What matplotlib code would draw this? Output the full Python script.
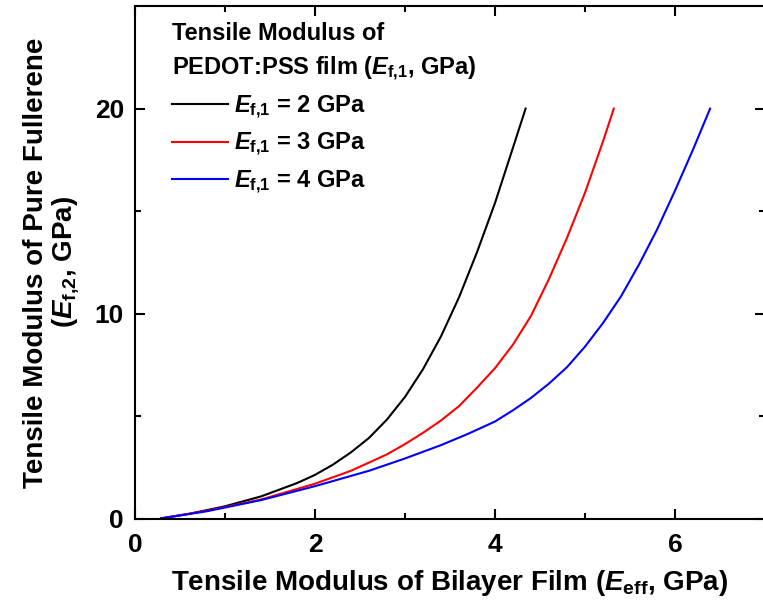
import matplotlib
matplotlib.use('Agg')
import matplotlib.pyplot as plt

plt.rcParams['font.family'] = ['Liberation Sans', 'DejaVu Sans']
plt.rcParams['font.weight'] = 'bold'
plt.rcParams['mathtext.fontset'] = 'custom'
plt.rcParams['mathtext.rm'] = 'Liberation Sans:bold'
plt.rcParams['mathtext.it'] = 'Liberation Sans:bold:italic'
plt.rcParams['mathtext.bf'] = 'Liberation Sans:bold'

# curves: E_eff (x) vs E_f,2 (y)
x_e2 = [0.29, 0.6, 1.0, 1.4, 1.8, 2.0, 2.2, 2.4, 2.6, 2.8, 3.0, 3.2, 3.4, 3.6, 3.8, 4.0, 4.2, 4.34]
y_e2 = [0.03, 0.25, 0.62, 1.1, 1.75, 2.15, 2.65, 3.25, 3.95, 4.85, 5.95, 7.3, 8.9, 10.8, 13.0, 15.4, 18.1, 20.0]

x_e3 = [0.29, 0.8, 1.4, 2.0, 2.4, 2.8, 3.0, 3.2, 3.4, 3.6, 3.8, 4.0, 4.2, 4.4, 4.6, 4.8, 5.0, 5.2, 5.32]
y_e3 = [0.03, 0.4, 0.95, 1.72, 2.35, 3.15, 3.65, 4.2, 4.8, 5.5, 6.4, 7.35, 8.5, 9.9, 11.7, 13.7, 15.9, 18.4, 20.0]

x_e4 = [0.29, 0.8, 1.4, 2.0, 2.2, 2.6, 3.0, 3.4, 3.7, 4.0, 4.2, 4.4, 4.6, 4.8, 5.0, 5.2, 5.4, 5.6, 5.8, 6.0, 6.2, 6.39]
y_e4 = [0.03, 0.38, 0.92, 1.6, 1.85, 2.35, 2.95, 3.6, 4.15, 4.75, 5.3, 5.9, 6.6, 7.4, 8.4, 9.55, 10.85, 12.4, 14.1, 16.0, 18.0, 20.0]

labels = [r'$\mathit{E}_{\mathrm{f{,}1}}$ = 2 GPa',
          r'$\mathit{E}_{\mathrm{f{,}1}}$ = 3 GPa',
          r'$\mathit{E}_{\mathrm{f{,}1}}$ = 4 GPa']
colors = ['black', 'red', 'blue']

fig = plt.figure(figsize=(7.63, 6.13), dpi=100)
ax = fig.add_axes([135/763, 94/613, 630/763, 513/613])

for xs, ys, c, lab in zip([x_e2, x_e3, x_e4], [y_e2, y_e3, y_e4], colors, labels):
    ax.plot(xs, ys, color=c, lw=1.5, label=lab)

ax.set_xlim(0, 7)
ax.set_ylim(0, 25)
ax.set_xticks([0, 2, 4, 6])
ax.set_xticks([1, 3, 5], minor=True)
ax.set_yticks([0, 10, 20])
ax.set_yticks([5, 15], minor=True)
ax.tick_params(which='both', direction='in', top=True, right=True, width=1.5,
               labelsize=19)
ax.tick_params(axis='x', pad=10)
ax.tick_params(axis='y', pad=8)
ax.tick_params(which='major', length=7)
ax.tick_params(which='minor', length=4)
for s in ax.spines.values():
    s.set_linewidth(1.5)

ax.set_xlabel(r'Tensile Modulus of Bilayer Film ($\mathit{E}_{\mathrm{eff}}$, GPa)',
              fontsize=20, fontweight='bold', labelpad=8)
ax.set_ylabel('Tensile Modulus of Pure Fullerene\n' + r'($\mathit{E}_{\mathrm{f{,}2}}$, GPa)',
              fontsize=20, fontweight='bold', labelpad=10, linespacing=1.05)

leg = ax.legend(loc='upper left', bbox_to_anchor=(0.059, 0.968), frameon=False,
                title='Tensile Modulus of\n' + r'PEDOT:PSS film ($\mathit{E}_{\mathrm{f{,}1}}$, GPa)',
                fontsize=17, title_fontsize=17, handlelength=2.37, handletextpad=0.25,
                labelspacing=0.45, borderpad=0, borderaxespad=0, alignment='left')
leg.get_title().set_fontweight('bold')
leg.get_title().set_linespacing(1.48)

fig.savefig('out.png', dpi=100)
